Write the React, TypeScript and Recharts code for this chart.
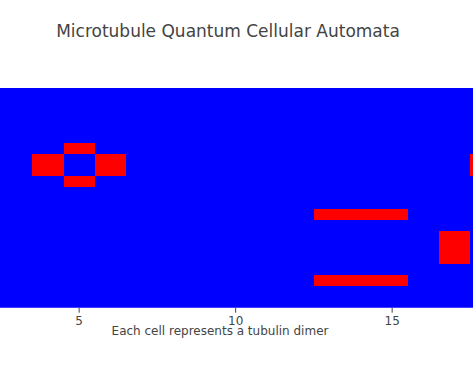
import { ComposedChart, XAxis, YAxis, ReferenceArea, Scatter } from 'recharts';

// dimer states, one string per row (top to bottom), '1' = excited (red)
const gridRows = [
  '00000000000000000000',
  '00000000000000000000',
  '00000000000000000000',
  '00000000000000000000',
  '00000000000000000000',
  '00000100000000000000',
  '00001010000000000010',
  '00001010000000000010',
  '00000100000000000000',
  '00000000000000000000',
  '00000000000000000000',
  '00000000000001110000',
  '00000000000000000000',
  '00000000000000000100',
  '00000000000000000100',
  '00000000000000000100',
  '00000000000000000000',
  '00000000000001110000',
  '00000000000000000000',
  '00000000000000000000',
];
const xTicks = [5, 10, 15];
const chartTitle = 'Microtubule Quantum Cellular Automata';
const xTitle = 'Each cell represents a tubulin dimer';

const nRows = gridRows.length;
const nCols = gridRows[0].length;

const font = '"DejaVu Sans", Verdana, sans-serif';

export default function App() {
  const cells: { r: number; c: number; x: number; y: number }[] = [];
  gridRows.forEach((row, r) =>
    row.split('').forEach((v, c) => {
      if (v === '1') cells.push({ r, c, x: c, y: r + 0.5 });
    })
  );

  return (
    <div
      style={{
        position: 'fixed',
        left: 0,
        top: 0,
        width: 473,
        height: 377,
        overflow: 'hidden',
        background: '#fff',
      }}
    >
      <svg width={473} height={60} style={{ position: 'absolute', left: 0, top: 0 }}>
        <text x={228} y={37} textAnchor="middle" fontFamily={font} fontSize={17} fill="#444">
          {chartTitle}
        </text>
      </svg>
      <div style={{ position: 'absolute', left: -93, top: 0 }}>
        <ComposedChart
          width={626}
          height={377}
          data={cells}
          margin={{ top: 88, right: 0, bottom: 29.3, left: 0 }}
        >
          <XAxis
            type="number"
            dataKey="x"
            domain={[-0.5, nCols - 0.5]}
            ticks={xTicks}
            height={40}
            axisLine={false}
            tickSize={5}
            tickMargin={4}
            tickLine={{ stroke: '#444' }}
            tick={{ fill: '#444', fontSize: 12, fontFamily: font }}
            label={{
              value: xTitle,
              position: 'insideBottom',
              offset: 13,
              fill: '#444',
              fontSize: 12,
              fontFamily: font,
            }}
          />
          <YAxis type="number" dataKey="y" domain={[0, nRows]} reversed hide width={0} />
          <ReferenceArea
            x1={-0.5}
            x2={nCols - 0.5}
            y1={0}
            y2={nRows}
            fill="#0000ff"
            fillOpacity={1}
            stroke="none"
            ifOverflow="visible"
          />
          {cells.map(({ r, c }) => (
            <ReferenceArea
              key={`${r}-${c}`}
              x1={c - 0.5}
              x2={c + 0.5}
              y1={r}
              y2={r + 1}
              fill="#ff0000"
              fillOpacity={1}
              stroke="none"
              shapeRendering="crispEdges"
              ifOverflow="visible"
            />
          ))}
          <Scatter dataKey="y" isAnimationActive={false} shape={() => <g />} />
        </ComposedChart>
      </div>
    </div>
  );
}
